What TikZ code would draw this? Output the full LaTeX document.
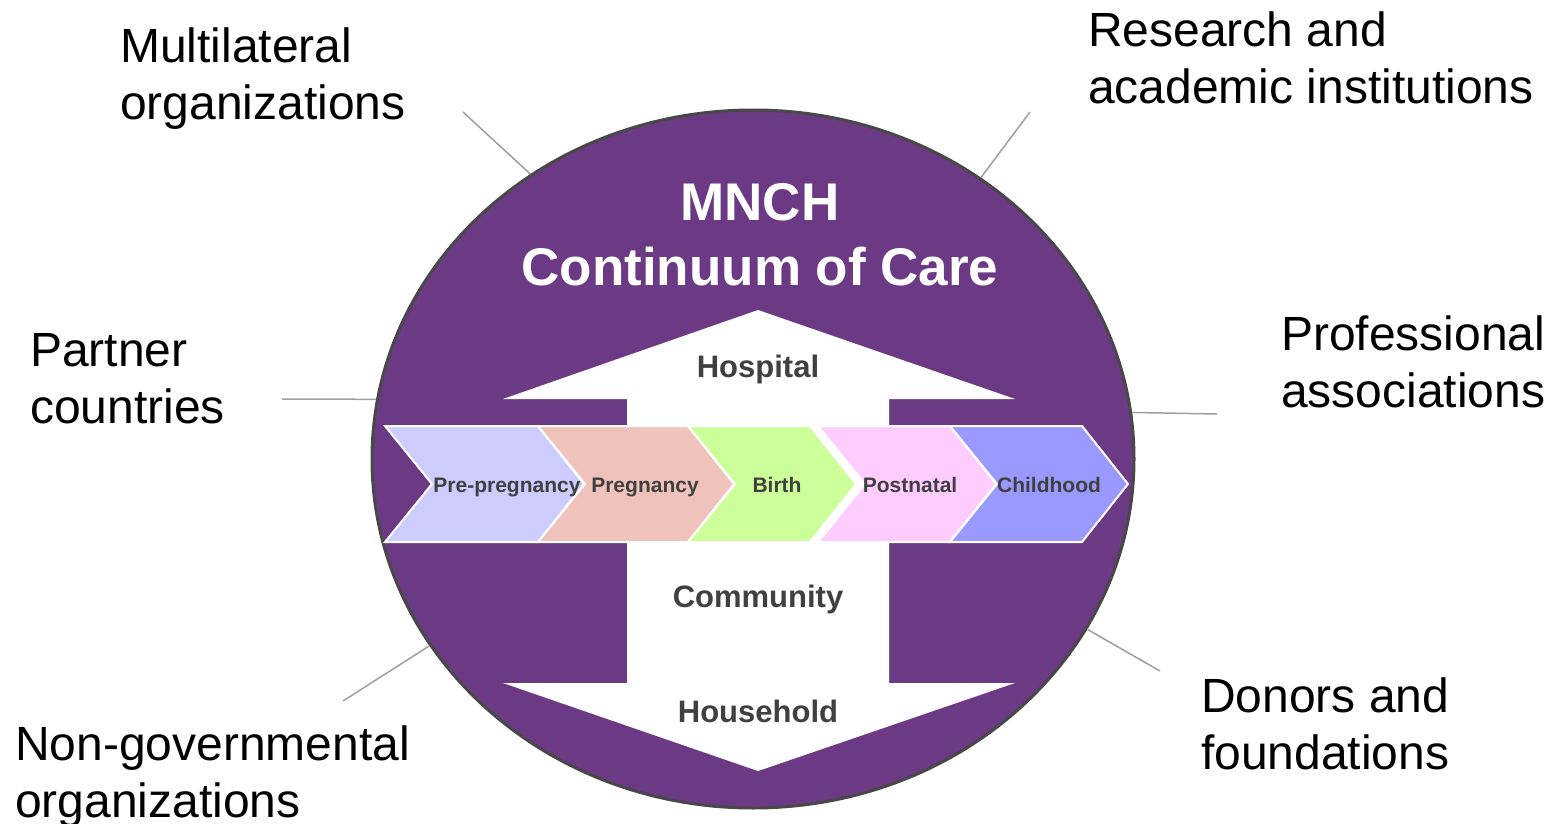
\documentclass[tikz,border=0pt]{standalone}
\usepackage{fontspec}
\setmainfont{Liberation Sans}
\usetikzlibrary{shapes.geometric}
\definecolor{mnchpurple}{RGB}{108,58,132}
\definecolor{ringgray}{RGB}{72,72,72}
\definecolor{stagetext}{RGB}{64,64,64}
\definecolor{st1}{RGB}{204,204,255}
\definecolor{st2}{RGB}{240,194,188}
\definecolor{st3}{RGB}{204,255,153}
\definecolor{st4}{RGB}{255,204,255}
\definecolor{st5}{RGB}{153,153,255}

\begin{document}
\begin{tikzpicture}[x=1pt, y=-1pt,
  partner/.style={anchor=base west, align=left, inner sep=0pt, font=\fontsize{48}{57}\selectfont},
  title/.style={anchor=base, inner sep=0pt, text=white, font=\fontsize{53}{60}\selectfont\bfseries},
  level/.style={anchor=base, inner sep=0pt, text=stagetext, font=\fontsize{31}{36}\selectfont\bfseries},
  stage/.style={anchor=base, inner sep=0pt, text=stagetext, font=\fontsize{21}{24}\selectfont\bfseries},
  chevron/.style={draw=white, line width=2pt, line join=miter},
  leader/.style={draw=gray!75, line width=1.5pt}
]
\useasboundingbox (0,0) rectangle (1553,824);

% Purple ring
\node[ellipse, draw=ringgray, line width=3pt, fill=mnchpurple,
      minimum width=762pt, minimum height=698pt, inner sep=0pt] (ring) at (753,459) {};

\node[title] (mnch) at (760,220) {MNCH};
\node[title] (coc) at (760,285) {Continuum of Care};

% Two-way arrow: hospital / community / household
\fill[white] (758,310) -- (1015,399) -- (889,399) -- (889,683) -- (1015,683)
  -- (758,771) -- (503,683) -- (627,683) -- (627,399) -- (503,399) -- cycle;
\node[level] (hosp) at (758,377) {Hospital};
\node[level] (comm) at (758,607) {Community};
\node[level] (hh) at (758,722) {Household};

% Stages of care
\foreach \l/\r/\tx/\c/\name [count=\i] in {
    385/538/507/st1/Pre-pregnancy,
    538/688/645/st2/Pregnancy,
    688/810/777/st3/Birth,
    818/950/910/st4/Postnatal,
    950/1082/1049/st5/Childhood}{
  \filldraw[chevron, fill=\c] (\l,426) -- (\r,426) -- (\r+46,484) -- (\r,542)
    -- (\l,542) -- (\l+47,484) -- cycle;
  \node[stage] (stage\i) at (\tx,492) {\name};
}

% Partners around the ring (y = baseline of the last line)
\node[partner] (multi) at (120,120) {Multilateral\\organizations};
\node[partner] (research) at (1088,104) {Research and\\academic institutions};
\node[partner] (country) at (30,423) {Partner\\countries};
\node[partner] (prof) at (1281,407) {Professional\\associations};
\node[partner] (ngo) at (15,817) {Non-governmental\\organizations};
\node[partner] (donor) at (1201,769) {Donors and\\foundations};

\coordinate (multi-end) at (463,112);
\coordinate (research-end) at (1030,112);
\coordinate (country-end) at (282,399);
\coordinate (prof-end) at (1217,414);
\coordinate (ngo-end) at (343,701);
\coordinate (donor-end) at (1160,671);

\draw[leader] (multi-end) -- (ring.128);
\draw[leader] (research-end) -- (ring.51);
\draw[leader] (country-end) -- (ring.171);
\draw[leader] (prof-end) -- (ring.7);
\draw[leader] (ngo-end) -- (ring.210);
\draw[leader] (donor-end) -- (ring.333);

\end{tikzpicture}
\end{document}
